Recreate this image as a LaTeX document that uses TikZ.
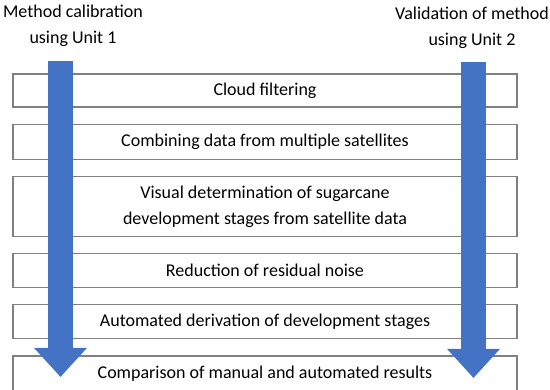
\documentclass[tikz,border=0pt]{standalone}
\usepackage{fontspec}
\setmainfont{Carlito}
\usepackage{tikz}
\usetikzlibrary{arrows.meta,positioning}
\definecolor{unitblue}{RGB}{68,114,196}
\definecolor{stagegray}{RGB}{128,128,128}

\begin{document}
\begin{tikzpicture}[
    x=1pt,y=-1pt,
    node distance=16pt,
    font=\fontsize{18}{26}\selectfont,
    stage/.style={
      rectangle,draw=stagegray,fill=white,line width=1.2pt,
      minimum width=504pt,minimum height=34pt,align=center,inner sep=0pt
    },
    unitlabel/.style={align=center,inner sep=0pt},
    unitflow/.style={-{Triangle[width=51pt,length=29pt]},line width=25pt,color=unitblue}
  ]
    \useasboundingbox (0,0) rectangle (550,390);

    \node[stage,minimum height=33pt] (cloud) at (265,90.5) {Cloud filtering};
    \node[stage,below=of cloud,minimum height=35pt] (combine) {Combining data from multiple satellites};
    \node[stage,below=of combine,minimum height=60pt] (visual) {Visual determination of sugarcane\\development stages from satellite data};
    \node[stage,below=of visual] (noise) {Reduction of residual noise};
    \node[stage,below=of noise] (derive) {Automated derivation of development stages};
    \node[stage,below=of derive,minimum height=35pt] (compare) {Comparison of manual and automated results};

    \node[unitlabel] (calib) at (73,26) {Method calibration\\using Unit 1};
    \node[unitlabel] (valid) at (472,28) {Validation of method\\using Unit 2};

    \coordinate (calibtop) at (60.5,61);
    \coordinate (calibend) at (60.5,377);
    \coordinate (validtop) at (473.5,62);
    \coordinate (validend) at (473.5,378);

    \draw[unitflow] (calibtop) -- (calibend);
    \draw[unitflow] (validtop) -- (validend);
  \end{tikzpicture}
\end{document}
